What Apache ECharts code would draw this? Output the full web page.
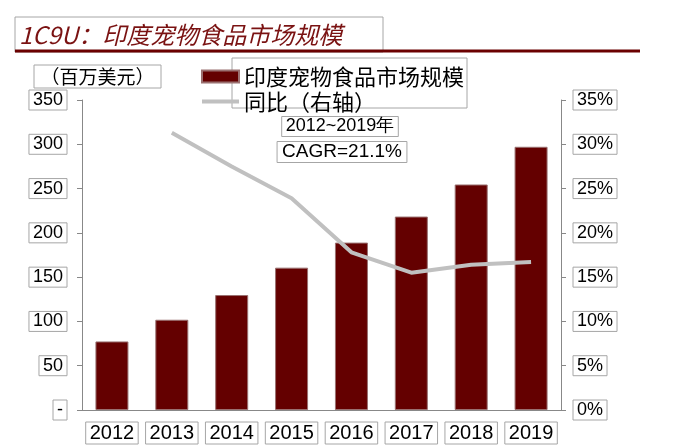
<!DOCTYPE html>
<html>
<head>
<meta charset="utf-8">
<title>印度宠物食品市场规模</title>
<script src="https://cdn.jsdelivr.net/npm/echarts@6/dist/echarts.min.js"></script>
<style>
  html, body { margin: 0; padding: 0; background: #fff; }
  #chart { width: 698px; height: 446px; }
</style>
</head>
<body>
<div id="chart"></div>
<script>
// 数据
var years = ['2012', '2013', '2014', '2015', '2016', '2017', '2018', '2019'];
var marketSize = [77.4, 101.9, 129.8, 160.7, 189, 218.4, 254.6, 297.2];   // 百万美元
var yoyGrowth = [null, 31.3, 27.5, 23.9, 17.8, 15.5, 16.4, 16.7];          // %
var leftTicks = { min: 0, max: 350, interval: 50 };
var rightTicks = { min: 0, max: 35, interval: 5 };

var latin = '"Liberation Sans", Arial, sans-serif';
var cjk = '"Noto Sans CJK SC", sans-serif';
var boxGrey = '#a6a6a6';
var axisGrey = '#888';

// 坐标轴标签带灰色边框
function boxedLabel(size, extra) {
    var o = {
        color: '#000',
        fontSize: size,
        fontFamily: latin,
        borderColor: boxGrey,
        borderWidth: 1,
        padding: [1, 4, 0, 4],
        lineHeight: size + 1
    };
    for (var k in extra) o[k] = extra[k];
    return o;
}

var chart = echarts.init(document.getElementById('chart'));

var option = {
    animation: false,
    grid: { left: 82, right: 137, top: 100, bottom: 36 },
    legend: {
        orient: 'vertical',
        left: 196,
        top: 59,
        itemWidth: 37,
        itemHeight: 12,
        itemGap: 0,
        textStyle: { fontSize: 22, lineHeight: 25, fontFamily: cjk, color: '#000' },
        data: [
            { name: '印度宠物食品市场规模', icon: 'rect' },
            { name: '同比（右轴）', icon: 'path://M0,0H37V4H0Z' }
        ]
    },
    xAxis: {
        type: 'category',
        data: years,
        axisLine: { lineStyle: { color: axisGrey } },
        axisTick: { length: 5, lineStyle: { color: axisGrey } },
        axisLabel: boxedLabel(20, { margin: 12, interval: 0 })
    },
    yAxis: [
        {
            type: 'value',
            min: leftTicks.min,
            max: leftTicks.max,
            interval: leftTicks.interval,
            splitLine: { show: false },
            axisLine: { show: true, lineStyle: { color: axisGrey } },
            axisTick: { show: true, length: 5, lineStyle: { color: axisGrey } },
            axisLabel: boxedLabel(18, {
                margin: 15,
                formatter: function (v) { return v === 0 ? '-' : v; }
            })
        },
        {
            type: 'value',
            min: rightTicks.min,
            max: rightTicks.max,
            interval: rightTicks.interval,
            splitLine: { show: false },
            axisLine: { show: true, lineStyle: { color: axisGrey } },
            axisTick: { show: true, length: 5, lineStyle: { color: axisGrey } },
            axisLabel: boxedLabel(18, { margin: 12, formatter: '{value}%' })
        }
    ],
    series: [
        {
            name: '印度宠物食品市场规模',
            type: 'bar',
            data: marketSize,
            barWidth: 33,
            itemStyle: { color: '#640000', borderColor: '#9a7070', borderWidth: 1 }
        },
        {
            name: '同比（右轴）',
            type: 'line',
            yAxisIndex: 1,
            data: yoyGrowth,
            color: '#c0c0c0',
            showSymbol: false,
            lineStyle: { width: 4, color: '#c0c0c0' }
        }
    ],
    graphic: [
        // 标题
        {
            type: 'rect',
            shape: { x: 15, y: 17, width: 368, height: 35 },
            style: { fill: 'none', stroke: boxGrey, lineWidth: 1 }
        },
        {
            type: 'text',
            style: {
                x: 19, y: 35,
                text: '1C9U：印度宠物食品市场规模',
                font: 'italic 24px ' + cjk,
                fill: '#7a1212',
                verticalAlign: 'middle'
            }
        },
        {
            type: 'line',
            shape: { x1: 15, y1: 51, x2: 640, y2: 51 },
            style: { stroke: '#6b0000', lineWidth: 3 }
        },
        // 单位
        {
            type: 'rect',
            shape: { x: 34, y: 65, width: 127, height: 23 },
            style: { fill: '#fff', stroke: boxGrey, lineWidth: 1 }
        },
        {
            type: 'text',
            style: {
                x: 97.5, y: 77,
                text: '（百万美元）',
                font: '19px ' + cjk,
                fill: '#000',
                align: 'center',
                verticalAlign: 'middle'
            }
        },
        // 图例外框
        {
            type: 'rect',
            shape: { x: 232, y: 58, width: 235, height: 50 },
            style: { fill: 'none', stroke: boxGrey, lineWidth: 1 }
        },
        // CAGR 注释
        {
            type: 'text',
            style: {
                x: 340, y: 126.5,
                text: '2012~2019年',
                font: '18px ' + latin,
                fill: '#000',
                align: 'center',
                verticalAlign: 'middle',
                borderColor: boxGrey,
                borderWidth: 1,
                padding: [1, 4, 1, 4]
            }
        },
        {
            type: 'text',
            style: {
                x: 342, y: 152,
                text: 'CAGR=21.1%',
                font: '19px ' + latin,
                fill: '#000',
                align: 'center',
                verticalAlign: 'middle',
                borderColor: boxGrey,
                borderWidth: 1,
                padding: [1, 5, 1, 5]
            }
        }
    ]
};

chart.setOption(option);
</script>
</body>
</html>
